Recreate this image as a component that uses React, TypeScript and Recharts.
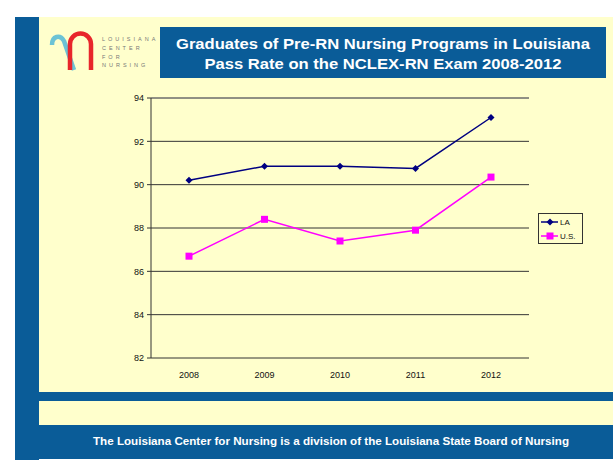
import { LineChart, Line, XAxis, YAxis, CartesianGrid, Legend, ReferenceLine } from 'recharts'

const years = ['2008', '2009', '2010', '2011', '2012']
const laRates = [90.2, 90.85, 90.85, 90.75, 93.1]
const usRates = [86.7, 88.4, 87.4, 87.9, 90.35]
const yTicks = [82, 84, 86, 88, 90, 92, 94]
const edgeTicks = [0, 1, 2, 3, 4, 5]
const seriesNames = ['LA', 'U.S.']
const titleLines = [
  'Graduates of Pre-RN Nursing Programs in Louisiana',
  'Pass Rate on the NCLEX-RN Exam 2008-2012',
]
const logoWords = ['LOUISIANA', 'CENTER', 'FOR', 'NURSING']
const footerText = 'The Louisiana Center for Nursing is a division of the Louisiana State Board of Nursing'

const data = years.map((year, i) => ({ year, la: laRates[i], us: usRates[i] }))

const BLUE = '#0a5c98'
const YELLOW = '#ffffcc'
const NAVY = '#000080'
const MAGENTA = '#ff00ff'
const FONT = '"Liberation Sans", Arial, sans-serif'

function Diamond({ cx, cy }: any) {
  if (cx == null || cy == null) return null
  return <polygon points={`${cx},${cy - 3.5} ${cx + 3.5},${cy} ${cx},${cy + 3.5} ${cx - 3.5},${cy}`} fill={NAVY} />
}

function Square({ cx, cy }: any) {
  if (cx == null || cy == null) return null
  return <rect x={cx - 3.5} y={cy - 3.5} width={7} height={7} fill={MAGENTA} />
}

function LegendBox() {
  const colors = [NAVY, MAGENTA]
  return (
    <svg width={45} height={31} style={{ display: 'block' }}>
      <rect x={0.5} y={0.5} width={44} height={30} fill={YELLOW} stroke="#333" />
      {seriesNames.map((name, i) => {
        const y = 9 + i * 14
        return (
          <g key={name}>
            <line x1={3} x2={20} y1={y} y2={y} stroke={colors[i]} strokeWidth={1.5} />
            {i === 0 ? <Diamond cx={12} cy={y} /> : <Square cx={12} cy={y} />}
            <text x={22} y={y + 3} fontSize={8} fontFamily={FONT} fill="#111">{name}</text>
          </g>
        )
      })}
    </svg>
  )
}

function Logo() {
  return (
    <svg width={120} height={50} style={{ position: 'absolute', left: 44, top: 28 }}>
      <path d="M8,17 C8,8 16,6 20,13 L30,42" fill="none" stroke="#6cc3d5" strokeWidth={4.5} />
      <path d="M26,42 L26,16 A10.5,10.5 0 0 1 47,16 L47,42" fill="none" stroke="#e8262b" strokeWidth={4.5} />
      {logoWords.map((w, i) => (
        <text key={w} x={58} y={13 + i * 8.8} fontSize={5.5} letterSpacing={3} fill="#777" fontFamily={FONT}>{w}</text>
      ))}
    </svg>
  )
}

export default function App() {
  return (
    <div style={{ position: 'absolute', left: 0, top: 0, width: 613, height: 460, background: '#fff', overflow: 'hidden', fontFamily: FONT }}>
      <div style={{ position: 'absolute', left: 15, top: 17, width: 24, height: 443, background: BLUE }} />
      <div style={{ position: 'absolute', left: 39, top: 17, width: 574, height: 375, background: YELLOW }} />
      <div style={{ position: 'absolute', left: 39, top: 392, width: 574, height: 9, background: BLUE }} />
      <div style={{ position: 'absolute', left: 39, top: 401, width: 574, height: 24, background: YELLOW }} />
      <div style={{ position: 'absolute', left: 39, top: 425, width: 574, height: 34, background: BLUE }} />
      <Logo />
      <svg width={446} height={51} style={{ position: 'absolute', left: 160, top: 27, background: BLUE }}>
        <text x={223} y={22} textAnchor="middle" fontSize={15} fontWeight="bold" fill="#fff" fontFamily={FONT} textLength={414} lengthAdjust="spacingAndGlyphs">{titleLines[0]}</text>
        <text x={223} y={42} textAnchor="middle" fontSize={15} fontWeight="bold" fill="#fff" fontFamily={FONT} textLength={357} lengthAdjust="spacingAndGlyphs">{titleLines[1]}</text>
      </svg>
      <svg width={613} height={20} style={{ position: 'absolute', left: 0, top: 432 }}>
        <text x={331} y={13} textAnchor="middle" fontSize={11} fontWeight="bold" fill="#fff" fontFamily={FONT} textLength={476} lengthAdjust="spacingAndGlyphs">{footerText}</text>
      </svg>
      <div style={{ position: 'absolute', left: 0, top: 0 }}>
        <LineChart width={613} height={460} data={data} margin={{ top: 98, right: 39, bottom: 72, left: 0 }}>
          <CartesianGrid vertical={false} stroke="#333" strokeWidth={1} yAxisId="left" />
          <ReferenceLine y={94} yAxisId="left" stroke="#888" strokeWidth={1} />
          <XAxis xAxisId="edge" type="number" domain={[0, 5]} ticks={edgeTicks} tick={false} tickLine={{ stroke: '#333' }} tickSize={4} axisLine={{ stroke: '#333' }} height={0} />
          <XAxis xAxisId="cat" dataKey="year" padding={{ left: 38, right: 38 }} tickLine={false} axisLine={false} height={30} tick={{ fontSize: 9, fill: '#111', fontFamily: FONT }} tickMargin={8} />
          <YAxis yAxisId="left" domain={[82, 94]} ticks={yTicks} width={151} tick={{ fontSize: 9, fill: '#111', fontFamily: FONT }} tickLine={{ stroke: '#333' }} tickSize={4} tickMargin={3} axisLine={{ stroke: '#333' }} />
          <YAxis yAxisId="right" orientation="right" domain={[82, 94]} width={0} tick={false} tickLine={false} axisLine={{ stroke: '#888' }} />
          <Legend layout="vertical" align="right" verticalAlign="middle" wrapperStyle={{ left: 538, top: 213, width: 45, height: 31, right: 'auto' }} content={() => <LegendBox />} />
          <Line xAxisId="cat" yAxisId="left" type="linear" dataKey="la" name={seriesNames[0]} stroke={NAVY} strokeWidth={1.5} dot={<Diamond />} isAnimationActive={false} />
          <Line xAxisId="cat" yAxisId="left" type="linear" dataKey="us" name={seriesNames[1]} stroke={MAGENTA} strokeWidth={1.5} dot={<Square />} isAnimationActive={false} />
        </LineChart>
      </div>
    </div>
  )
}
